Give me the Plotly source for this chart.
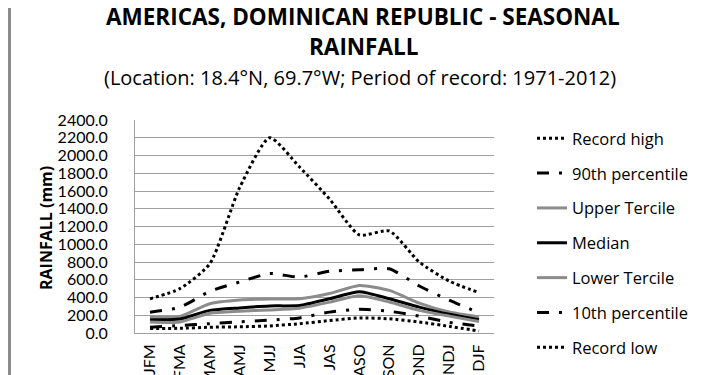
import plotly.graph_objects as go

categories = ["JFM", "FMA", "MAM", "AMJ", "MJJ", "JJA", "JAS", "ASO", "SON", "OND", "NDJ", "DJF"]
record_high = [385, 500, 780, 1640, 2200, 1870, 1510, 1105, 1150, 800, 585, 455]
p90 = [235, 290, 470, 575, 670, 630, 695, 712, 724, 530, 370, 228]
upper_tercile = [180, 187, 330, 372, 384, 386, 445, 535, 480, 337, 236, 180]
median = [150, 157, 255, 283, 305, 310, 385, 465, 386, 292, 212, 150]
lower_tercile = [124, 124, 222, 245, 260, 280, 348, 420, 349, 255, 190, 130]
p10 = [65, 85, 105, 125, 145, 170, 235, 268, 245, 190, 120, 80]
record_low = [50, 53, 65, 70, 80, 105, 140, 170, 160, 124, 75, 22]

series_names = ["Record high", "90th percentile", "Upper Tercile", "Median",
                "Lower Tercile", "10th percentile", "Record low"]
series_values = [record_high, p90, upper_tercile, median, lower_tercile, p10, record_low]

DASHDOT = "12px,10px,3px,10px"
styles = [
    dict(color="#000000", width=3, dash="dot"),
    dict(color="#000000", width=3, dash=DASHDOT),
    dict(color="#8c8c8c", width=3, dash="solid"),
    dict(color="#000000", width=3, dash="solid"),
    dict(color="#8c8c8c", width=3, dash="solid"),
    dict(color="#000000", width=3, dash=DASHDOT),
    dict(color="#000000", width=3, dash="dot"),
]

FONT = "Lato, 'Open Sans', sans-serif"
FONT2 = "'Open Sans', Lato, sans-serif"

fig = go.Figure()
for name, vals, st in zip(series_names, series_values, styles):
    fig.add_trace(go.Scatter(
        x=categories, y=vals, name=name, mode="lines",
        line=dict(color=st["color"], width=st["width"], dash=st["dash"],
                  shape="spline", smoothing=0.6),
        legendgroup=name,
    ))

# geometry of plot area in pixels
L, R, T, B = 127, 224, 112, 50
W = 710 - L - R
H = 375 - T - B


def px_x(p):
    return (p - L) / W


def px_y(p):
    return (375 - B - p) / H


fig.update_layout(
    width=710, height=375,
    margin=dict(l=L, r=R, t=T, b=B, autoexpand=False),
    paper_bgcolor="white", plot_bgcolor="white",
    font=dict(family=FONT, size=16, color="#000000"),
    showlegend=True,
    legend=dict(
        x=px_x(524), y=px_y(113), xanchor="left", yanchor="top",
        font=dict(family=FONT2, size=16.5, color="#000000"),
        tracegroupgap=10.4, bgcolor="rgba(0,0,0,0)", borderwidth=0,
        maxheight=400,
    ),
    xaxis=dict(
        type="category", range=[-0.5, 11.5], showgrid=False,
        showline=True, linecolor="#a0a0a0", linewidth=1,
        ticks="", tickangle=-90, ticklabelstandoff=4,
        tickfont=dict(family=FONT, size=16), automargin=False,
    ),
    yaxis=dict(
        range=[0, 2400], dtick=200, tickformat=".1f",
        showgrid=True, gridcolor="#a0a0a0", gridwidth=1,
        showline=True, linecolor="#a0a0a0", linewidth=1,
        zeroline=False, ticks="", ticklabelstandoff=23,
        tickfont=dict(family=FONT, size=16), automargin=False,
    ),
    annotations=[
        dict(text="<b>AMERICAS, DOMINICAN REPUBLIC - SEASONAL</b>", xref="paper", yref="paper",
             x=px_x(355), y=px_y(8), showarrow=False, xanchor="center", yanchor="middle",
             font=dict(family=FONT2, size=22.5)),
        dict(text="<b>RAINFALL</b>", xref="paper", yref="paper",
             x=px_x(355), y=px_y(39), showarrow=False, xanchor="center", yanchor="middle",
             font=dict(family=FONT2, size=22.5)),
        dict(text="(Location: 18.4°N, 69.7°W; Period of record: 1971-2012)", xref="paper", yref="paper",
             x=px_x(352), y=px_y(69), showarrow=False, xanchor="center", yanchor="middle",
             font=dict(family=FONT2, size=20)),
        dict(text="<b>RAINFALL (mm)</b>", xref="paper", yref="paper",
             x=px_x(38), y=px_y(220), showarrow=False, xanchor="center", yanchor="middle",
             textangle=-90, font=dict(family=FONT2, size=16)),
    ],
    shapes=[
        dict(type="line", xref="paper", yref="paper", x0=px_x(1.5), x1=px_x(1.5),
             y0=px_y(0), y1=px_y(375), line=dict(color="#8c8c8c", width=3)),
        dict(type="line", xref="paper", yref="paper", x0=px_x(707.5), x1=px_x(707.5),
             y0=px_y(0), y1=px_y(375), line=dict(color="#8c8c8c", width=3)),
    ],
)

fig.write_html("out.html")
